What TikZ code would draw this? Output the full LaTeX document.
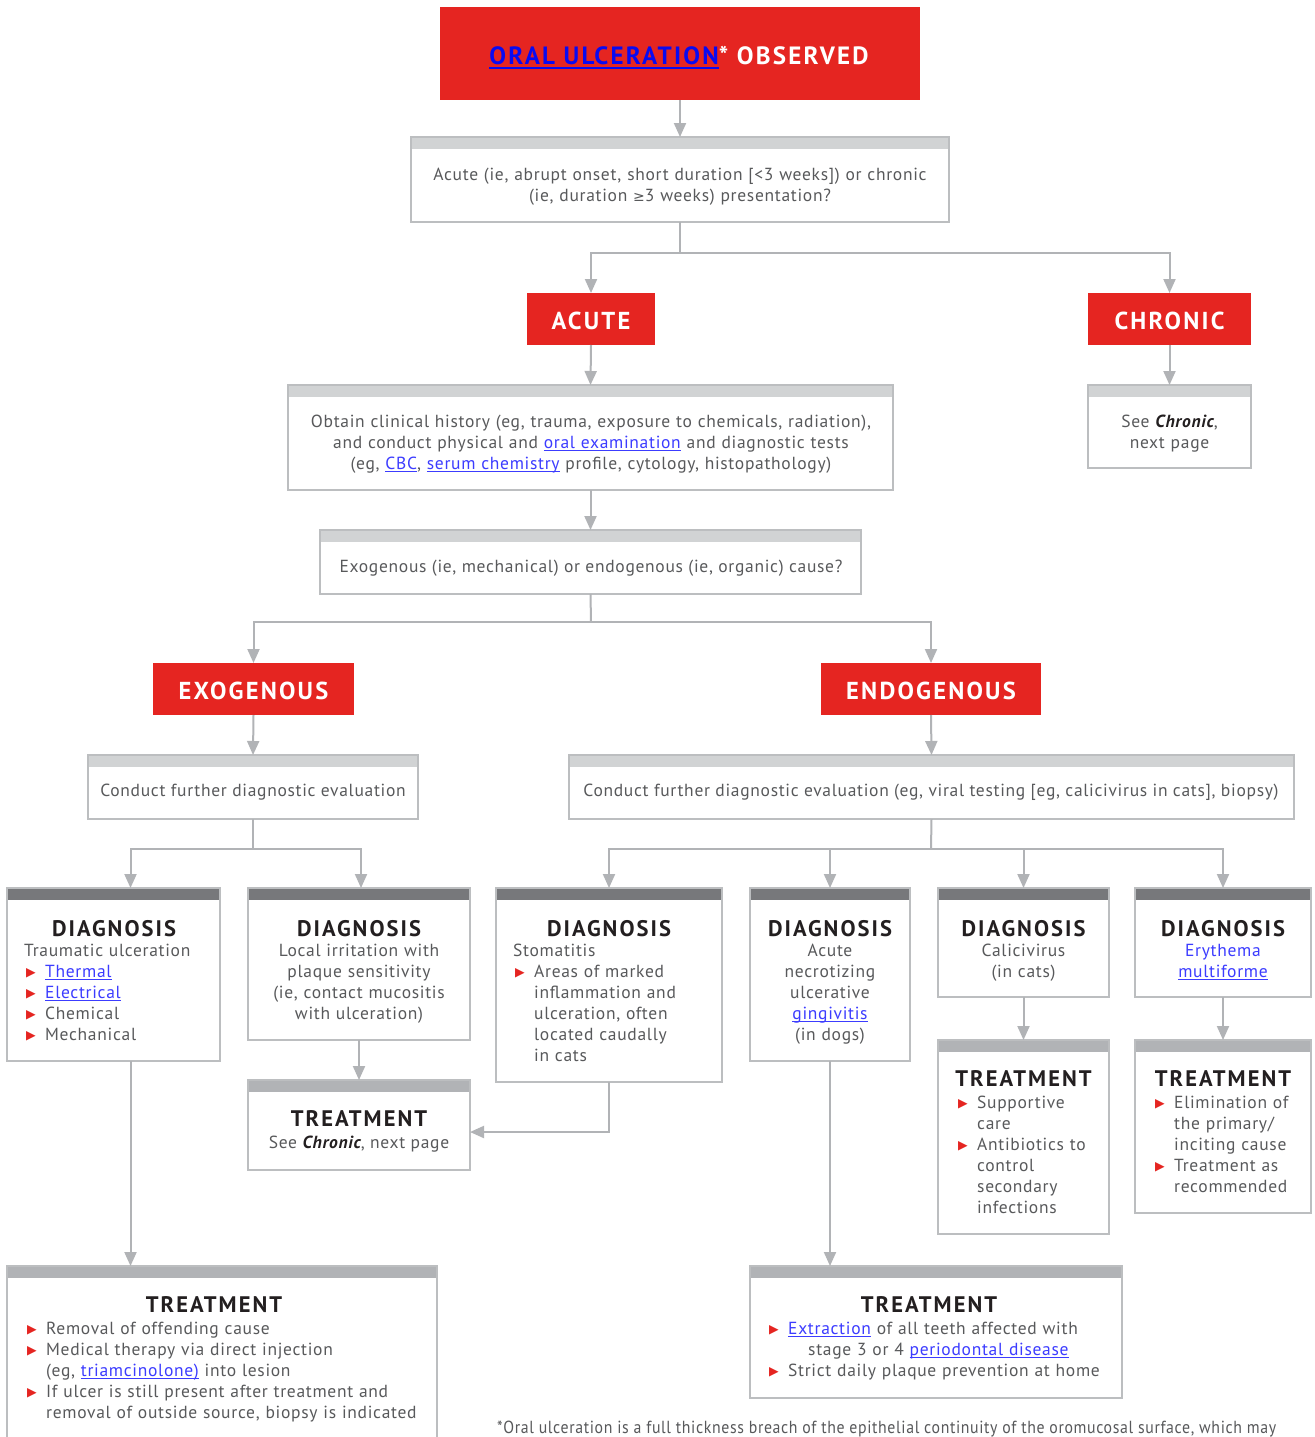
\documentclass[tikz,border=0pt]{standalone}
\usepackage{fontspec}
\setmainfont{PT Sans}[LetterSpace=4]
\newfontfamily\symf{DejaVu Sans}
\newfontfamily\hdf{PT Sans}[LetterSpace=9]
\usepackage{graphicx}
\usetikzlibrary{arrows.meta}

\definecolor{ured}{HTML}{E52521}
\definecolor{linkblue}{HTML}{3C3CFF}
\definecolor{titleblue}{HTML}{0A0AF0}
\definecolor{bodycol}{HTML}{58595B}
\definecolor{headcol}{HTML}{231F20}
\definecolor{bordercol}{HTML}{BCBEC0}
\definecolor{conncol}{HTML}{B1B3B6}
\definecolor{hdlight}{HTML}{D1D3D4}
\definecolor{hdmid}{HTML}{B1B3B6}
\definecolor{hddark}{HTML}{77787B}

\newcommand{\bodyf}{\fontsize{17.5pt}{21pt}\selectfont}
\newcommand{\ulx}[3]{\leavevmode\setbox0\hbox{#3}\rlap{\rule[-#1]{\wd0}{#2}}\box0}
\newcommand{\lnk}[1]{{\color{linkblue}\ulx{3pt}{1.2pt}{#1}}}
\newcommand{\bul}{\makebox[21pt][l]{\kern2pt\raisebox{1pt}{\textcolor{ured}{\fontsize{12.5pt}{12.5pt}\selectfont\symf ▶}}}}
\newcommand{\bfirst}{\noindent\hangindent=21pt\hangafter=1\relax\bul}
\newcommand{\bitem}{\par\bfirst}
\newcommand{\chr}{\textcolor{headcol}{\bfseries\itshape Chronic}}

\tikzset{
  conn/.style={draw=conncol, line width=2pt},
  arr/.style={conn, -{Triangle[width=12pt,length=14pt]}},
  boxbase/.style={draw=bordercol, line width=2pt, fill=white, inner sep=0pt, outer sep=0pt, anchor=north west},
  hdr/.style={path picture={\fill[#1] (path picture bounding box.north west) rectangle ([yshift=-12pt]path picture bounding box.north east);}},
  qbox/.style={boxbase, hdr=hdlight},
  dbox/.style={boxbase, hdr=hddark},
  tbox/.style={boxbase, hdr=hdmid},
  redbox/.style={fill=ured, inner sep=0pt, outer sep=0pt, anchor=north west},
  redlbl/.style={anchor=base, text=white, inner sep=0pt, font=\hdf\bfseries\fontsize{24.5pt}{28pt}\selectfont},
  body/.style={anchor=base, text=bodycol, font=\bodyf, inner sep=0pt, align=center},
  bodyl/.style={anchor=base west, text=bodycol, font=\bodyf, inner sep=0pt, align=left},
  head/.style={anchor=base, text=headcol, inner sep=0pt, font=\hdf\bfseries\fontsize{22.5pt}{26pt}\selectfont},
}

\begin{document}
\begin{tikzpicture}[x=1pt,y=-1pt]
\fill[white] (0,0) rectangle (1314,1437);
\useasboundingbox (0,0) rectangle (1314,1437);

% ---------- boxes ----------
\node[redbox, minimum width=480pt, minimum height=93pt] (title) at (440,7) {};
\node[qbox, minimum width=538pt, minimum height=85pt] (q1) at (411,137) {};
\node[redbox, minimum width=128pt, minimum height=52pt] (acute) at (527,293) {};
\node[redbox, minimum width=163pt, minimum height=52pt] (chronic) at (1088,293) {};
\node[qbox, minimum width=605pt, minimum height=105pt] (hist) at (288,385) {};
\node[qbox, minimum width=163pt, minimum height=83pt] (seech) at (1088,385) {};
\node[qbox, minimum width=541pt, minimum height=64pt] (q2) at (320,530) {};
\node[redbox, minimum width=201pt, minimum height=52pt] (exo) at (153,663) {};
\node[redbox, minimum width=220pt, minimum height=52pt] (endo) at (821,663) {};
\node[qbox, minimum width=330pt, minimum height=64pt] (ev1) at (88,755) {};
\node[qbox, minimum width=725pt, minimum height=64pt] (ev2) at (569,755) {};
\node[dbox, minimum width=213pt, minimum height=173pt] (d1) at (7,888) {};
\node[dbox, minimum width=222pt, minimum height=152pt] (d2) at (248,888) {};
\node[dbox, minimum width=226pt, minimum height=194pt] (d3) at (496,888) {};
\node[dbox, minimum width=160pt, minimum height=173pt] (d4) at (750,888) {};
\node[dbox, minimum width=171pt, minimum height=109pt] (d5) at (938,888) {};
\node[dbox, minimum width=176pt, minimum height=109pt] (d6) at (1135,888) {};
\node[tbox, minimum width=222pt, minimum height=90pt] (t2) at (248,1080) {};
\node[tbox, minimum width=171pt, minimum height=194pt] (t5) at (938,1040) {};
\node[tbox, minimum width=176pt, minimum height=173pt] (t6) at (1135,1040) {};
\node[tbox, minimum width=430pt, minimum height=200pt] (t1) at (7,1266) {};
\node[tbox, minimum width=372pt, minimum height=132pt] (t4) at (750,1266) {};

% ---------- connectors ----------
\coordinate (j1) at (680,253);
\coordinate (j2) at (591,622);
\coordinate (j3) at (253,849);
\coordinate (j4) at (931,849);
\draw[arr] (title.south) -- (q1.north);
\draw[conn] (q1.south) -- (j1);
\draw[arr] (j1) -| (acute.north);
\draw[arr] (j1) -| (chronic.north);
\draw[arr] (acute.south) -- (hist.north);
\draw[arr] (chronic.south) -- (seech.north);
\draw[arr] (hist.south) -- (q2.north);
\draw[conn] (q2.south) -- (j2);
\draw[arr] (j2) -| (exo.north);
\draw[arr] (j2) -| (endo.north);
\draw[arr] (exo.south) -- (ev1.north);
\draw[arr] (endo.south) -- (ev2.north);
\draw[conn] (ev1.south) -- (j3);
\draw[arr] (j3) -| ([xshift=17pt]d1.north);
\draw[arr] (j3) -| ([xshift=2pt]d2.north);
\draw[conn] (ev2.south) -- (j4);
\draw[arr] (j4) -| (d3.north);
\draw[arr] (j4) -| (d4.north);
\draw[arr] (j4) -| (d5.north);
\draw[arr] (j4) -| (d6.north);
\draw[arr] ([xshift=17pt]d1.south) -- ([xshift=17pt]d1.south |- t1.north);
\draw[arr] (d2.south) -- (d2.south |- t2.north);
\draw[arr] (d3.south) |- ([yshift=-7pt]t2.east);
\draw[arr] (d4.south) -- (d4.south |- t4.north);
\draw[arr] (d5.south) -- (d5.south |- t5.north);
\draw[arr] (d6.south) -- (d6.south |- t6.north);

% ---------- texts ----------
\node[anchor=base, inner sep=0pt, font=\hdf\bfseries\fontsize{25pt}{30pt}\selectfont] (ttitle) at (679,65)
  {{\color{titleblue}\ulx{4pt}{2.5pt}{ORAL ULCERATION}}\textcolor{white}{* OBSERVED}};
\node[body, text width=530pt] (tq1) at (680,180)
  {Acute (ie, abrupt onset, short duration [<3 weeks]) or chronic\\(ie, duration {\symf\fontsize{14pt}{21pt}\selectfont ≥}3 weeks) presentation?};
\node[redlbl] (tacute) at (591,329) {ACUTE};
\node[redlbl] (tchronic) at (1169.5,329) {CHRONIC};
\node[body, text width=600pt] (thist) at (591,427)
  {Obtain clinical history (eg, trauma, exposure to chemicals, radiation),\\
   and conduct physical and \lnk{oral examination} and diagnostic tests\\
   (eg, \lnk{CBC}, \lnk{serum chemistry} profile, cytology, histopathology)};
\node[body, text width=155pt] (tseech) at (1169.5,427) {See \chr,\\next page};
\node[body] (tq2) at (591,572) {Exogenous (ie, mechanical) or endogenous (ie, organic) cause?};
\node[redlbl] (texo) at (253.5,699) {EXOGENOUS};
\node[redlbl] (tendo) at (931,699) {ENDOGENOUS};
\node[body] (tev1) at (253,796) {Conduct further diagnostic evaluation};
\node[body] (tev2) at (931,796) {Conduct further diagnostic evaluation (eg, viral testing [eg, calicivirus in cats], biopsy)};

% diagnosis
\node[head] (hd1) at (114,936) {DIAGNOSIS};
\node[bodyl, text width=192pt] (bd1) at (24,956)
  {Traumatic ulceration\bitem \lnk{Thermal}\bitem \lnk{Electrical}\bitem Chemical\bitem Mechanical\par};
\node[head] (hd2) at (359,936) {DIAGNOSIS};
\node[body, text width=215pt] (bd2) at (359,956)
  {Local irritation with\\plaque sensitivity\\(ie, contact mucositis\\with ulceration)};
\node[head] (hd3) at (609,936) {DIAGNOSIS};
\node[bodyl, text width=205pt] (bd3) at (513,956)
  {Stomatitis\bitem Areas of marked\newline inflammation and\newline ulceration, often\newline located caudally\newline in cats\par};
\node[head] (hd4) at (830,936) {DIAGNOSIS};
\node[body, text width=155pt] (bd4) at (830,956)
  {Acute\\necrotizing\\ulcerative\\\lnk{gingivitis}\\(in dogs)};
\node[head] (hd5) at (1023.5,936) {DIAGNOSIS};
\node[body, text width=165pt] (bd5) at (1023.5,956) {Calicivirus\\(in cats)};
\node[head] (hd6) at (1223,936) {DIAGNOSIS};
\node[body, text width=170pt] (bd6) at (1223,956) {\textcolor{linkblue}{Erythema}\\\lnk{multiforme}};

% treatments
\node[head] (ht2) at (359,1126) {TREATMENT};
\node[body] (bt2) at (359,1148) {See \chr, next page};
\node[head] (ht5) at (1023.5,1086) {TREATMENT};
\node[bodyl, text width=150pt] (bt5) at (956,1108)
  {\bfirst Supportive\newline care\bitem Antibiotics to\newline control\newline secondary\newline infections\par};
\node[head] (ht6) at (1223,1086) {TREATMENT};
\node[bodyl, text width=155pt] (bt6) at (1153,1108)
  {\bfirst Elimination of\newline the primary/\newline inciting cause\bitem Treatment as\newline recommended\par};
\node[head] (ht1) at (214,1312) {TREATMENT};
\node[bodyl, text width=420pt] (bt1) at (25,1334)
  {\bfirst Removal of offending cause\bitem Medical therapy via direct injection\newline (eg, \lnk{triamcinolone)} into lesion\bitem If ulcer is still present after treatment and\newline removal of outside source, biopsy is indicated\par};
\node[head] (ht4) at (929,1312) {TREATMENT};
\node[bodyl, text width=360pt] (bt4) at (767,1334)
  {\bfirst \lnk{Extraction} of all teeth affected with\newline\hspace*{20pt}stage 3 or 4 \lnk{periodontal disease}\bitem Strict daily plaque prevention at home\par};

% footnote
\node[anchor=base west, inner sep=0pt, text=bodycol, font=\bodyf] (foot) at (497,1433)
  {\resizebox{779pt}{\height}{*Oral ulceration is a full thickness breach of the epithelial continuity of the oromucosal surface, which may}};
\end{tikzpicture}
\end{document}
